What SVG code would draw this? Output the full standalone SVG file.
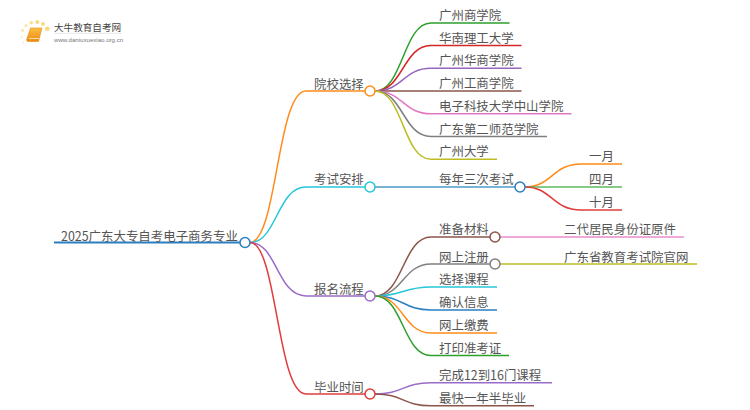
<svg xmlns="http://www.w3.org/2000/svg" width="750" height="410" viewBox="0 0 750 410">
<defs><linearGradient id="bk" x1="0" y1="0" x2="0" y2="1"><stop offset="0" stop-color="#fbbf45"/><stop offset="1" stop-color="#ee8a12"/></linearGradient></defs>
<style>
text{font-family:"Noto Sans CJK SC","Liberation Sans",sans-serif;font-size:12.45px;fill:#555}
#connectors path{fill:none;stroke-width:1.5}
.n{fill:#fff;stroke-width:1.5}
</style>
<rect width="750" height="410" fill="#fff"/>
<g id="logo">
<circle cx="47.300" cy="28.700" r="2.300" fill="#fcd67a"/><circle cx="43" cy="24" r="1.900" fill="#fcd67a"/><circle cx="37.300" cy="22" r="1.900" fill="#fcd67a"/><circle cx="31.300" cy="22.700" r="1.800" fill="#fcdc90"/><circle cx="26" cy="25.700" r="1.600" fill="#fde4a6"/><circle cx="22.500" cy="30.500" r="1.400" fill="#fde4a6"/><circle cx="21.700" cy="36.700" r="1.200" fill="#feeec8"/><circle cx="23.300" cy="42.500" r="1" fill="#feeec8"/>
<path d="M30.500 28H42L38.500 41.500H28C26.500 41.500 26.500 40 27 38.500Z" fill="url(#bk)" stroke="#ea8a10" stroke-width=".6"/>
<path d="M29 38.500H39" stroke="#fde2ac" stroke-width="1"/>
<text x="54" y="31" style="font-size:9.600px;fill:#444">大牛教育自考网</text>
<path d="M54 33.300H122" stroke="#ddd" stroke-width=".7"/>
<text x="54" y="41.500" style="font-family:'Liberation Sans',sans-serif;font-size:6.100px;fill:#777">www.daniuxuexiao.org.cn</text>
</g>
<g id="connectors">
<path stroke="#2a7fc1" style="stroke-width:2" d="M54 242.500H245"/>
<path stroke="#ff8c1a" d="M250 242.500C277 242.500 277 91 306 91H370"/>
<path stroke="#26c6da" d="M250 242.500C277 242.500 277 187 306 187H370"/>
<path stroke="#9a6cc9" d="M250 242.500C277 242.500 277 296 306 296H370"/>
<path stroke="#e03c3c" d="M250 242.500C277 242.500 277 394 306 394H370"/>
<path stroke="#2ca02c" d="M375 91C403 91 403 23 431 23H509.500"/>
<path stroke="#d62728" d="M375 91C403 91 403 45.500 431 45.500H521.500"/>
<path stroke="#9467bd" d="M375 91C403 91 403 68.300 431 68.300H521.500"/>
<path stroke="#8c564b" d="M375 91H521.500"/>
<path stroke="#e377c2" d="M375 91C403 91 403 113.800 431 113.800H571.500"/>
<path stroke="#7f7f7f" d="M375 91C403 91 403 136.500 431 136.500H547"/>
<path stroke="#bcbd22" d="M375 91C403 91 403 159.300 431 159.300H497"/>
<path stroke="#4a9bc9" d="M375 187H520"/>
<path stroke="#ff8c1a" d="M525 187C552 187 552 164 581 164H622"/>
<path stroke="#5cb85c" d="M525 187H622"/>
<path stroke="#e03c3c" d="M525 187C552 187 552 210 581 210H622"/>
<path stroke="#8c564b" d="M375 296C403 296 403 237 431 237H495"/>
<path stroke="#7f7f7f" d="M375 296C403 296 403 264 431 264H495"/>
<path stroke="#26c6da" d="M375 296C403 296 403 287 431 287H497"/>
<path stroke="#2a7fc1" d="M375 296C403 296 403 310 431 310H497"/>
<path stroke="#ff8c1a" d="M375 296C403 296 403 333 431 333H497"/>
<path stroke="#2ca02c" d="M375 296C403 296 403 355.500 431 355.500H509"/>
<path stroke="#e98ccf" d="M500 237H684"/>
<path stroke="#bcbd22" d="M500 264H697"/>
<path stroke="#9a6cc9" d="M375 394C403 394 403 382.800 431 382.800H552"/>
<path stroke="#8c564b" d="M375 394C403 394 403 405.800 431 405.800H534"/>
</g>
<g id="root"><text x="61" y="241">2025广东大专自考电子商务专业</text><circle class="n" cx="245" cy="242.500" r="5" stroke="#2a7fc1"/></g>
<g id="n1"><text x="314" y="89">院校选择</text><circle class="n" cx="370" cy="91" r="5" stroke="#ff8c1a"/></g>
<g id="n2"><text x="314" y="184">考试安排</text><circle class="n" cx="370" cy="187" r="5" stroke="#26c6da"/></g>
<g id="n3"><text x="314" y="293.500">报名流程</text><circle class="n" cx="370" cy="296" r="5" stroke="#9a6cc9"/></g>
<g id="n4"><text x="314" y="391.500">毕业时间</text><circle class="n" cx="370" cy="394" r="5" stroke="#e03c3c"/></g>
<g id="a1"><text x="439" y="20">广州商学院</text></g>
<g id="a2"><text x="439" y="43">华南理工大学</text></g>
<g id="a3"><text x="439" y="65">广州华商学院</text></g>
<g id="a4"><text x="439" y="88">广州工商学院</text></g>
<g id="a5"><text x="439" y="111">电子科技大学中山学院</text></g>
<g id="a6"><text x="439" y="134">广东第二师范学院</text></g>
<g id="a7"><text x="439" y="156">广州大学</text></g>
<g id="b1"><text x="439" y="184">每年三次考试</text><circle class="n" cx="520" cy="187" r="5" stroke="#2a7fc1"/></g>
<g id="b2"><text x="589" y="161">一月</text></g>
<g id="b3"><text x="589" y="184">四月</text></g>
<g id="b4"><text x="589" y="207">十月</text></g>
<g id="c1"><text x="439" y="234">准备材料</text><circle class="n" cx="495" cy="237" r="5" stroke="#8c564b"/></g>
<g id="c2"><text x="439" y="261.500">网上注册</text><circle class="n" cx="495" cy="264" r="5" stroke="#7f7f7f"/></g>
<g id="c3"><text x="439" y="284">选择课程</text></g>
<g id="c4"><text x="439" y="307">确认信息</text></g>
<g id="c5"><text x="439" y="330">网上缴费</text></g>
<g id="c6"><text x="439" y="352.500">打印准考证</text></g>
<g id="c7"><text x="564" y="234">二代居民身份证原件</text></g>
<g id="c8"><text x="564" y="261.500">广东省教育考试院官网</text></g>
<g id="d1"><text x="439" y="380">完成12到16门课程</text></g>
<g id="d2"><text x="439" y="403">最快一年半毕业</text></g>
</svg>
